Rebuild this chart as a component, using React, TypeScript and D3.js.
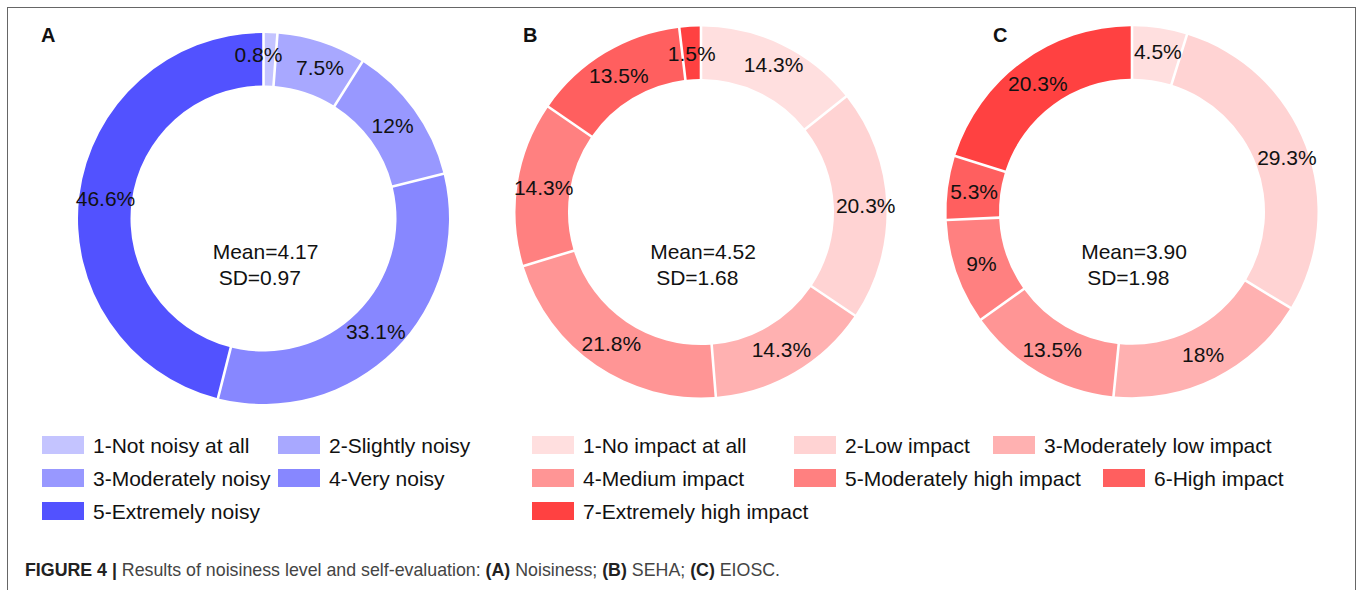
import React, { useEffect, useRef } from 'react';
import * as d3 from 'd3';

// Panel A: noisiness level
const noiseLabels = ['1-Not noisy at all', '2-Slightly noisy', '3-Moderately noisy', '4-Very noisy', '5-Extremely noisy'];
const noiseValues = [0.8, 7.5, 12, 33.1, 46.6];
const blueColors = ['#c4c4ff', '#a8a8ff', '#9898ff', '#8787ff', '#5252ff'];

// Panels B and C: impact scale
const impactLabels = [
  '1-No impact at all', '2-Low impact', '3-Moderately low impact', '4-Medium impact',
  '5-Moderately high impact', '6-High impact', '7-Extremely high impact',
];
const sehaValues = [14.3, 20.3, 14.3, 21.8, 14.3, 13.5, 1.5];
const eioscValues = [4.5, 29.3, 18, 13.5, 9, 5.3, 20.3];
const redColors = ['#ffdfdf', '#ffd3d3', '#ffb1b1', '#ff9595', '#ff8080', '#ff5f5f', '#ff4141'];

const panelNames = ['A', 'B', 'C'];
const means = ['4.17', '4.52', '3.90'];
const sds = ['0.97', '1.68', '1.98'];

const W = 1358;
const H = 590;
const FONT = '"Liberation Sans", Arial, Helvetica, sans-serif';

export default function App() {
  const svgRef = useRef<SVGSVGElement>(null);

  useEffect(() => {
    if (!svgRef.current) return;
    const svg = d3.select(svgRef.current);
    svg.selectAll('*').remove();

    svg.append('rect')
      .attr('x', 7.5).attr('y', 7.5)
      .attr('width', 1348).attr('height', 620)
      .attr('fill', 'none')
      .attr('stroke', '#666')
      .attr('stroke-width', 1);

    const panels = [
      { values: noiseValues, colors: blueColors, cx: 263.5, cy: 218.5, letterX: 41, nudge: [[-11, -4.5], [6.6, 0]] },
      { values: sehaValues, colors: redColors, cx: 701, cy: 212, letterX: 523, nudge: [[3.4, -4.5], [5.6, 0]] },
      { values: eioscValues, colors: redColors, cx: 1132, cy: 211.7, letterX: 993, nudge: [[2, -3], [6, 2]] },
    ];

    const pie = d3.pie<number>().sort(null).value(d => d).padAngle(0.026);
    const arc = d3.arc<d3.PieArcDatum<number>>()
      .innerRadius(133)
      .outerRadius(185.5)
      .padRadius(100);

    panels.forEach((p, i) => {
      const g = svg.append('g').attr('transform', `translate(${p.cx},${p.cy})`);
      const arcs = pie(p.values);

      g.selectAll('path')
        .data(arcs)
        .enter()
        .append('path')
        .attr('d', arc)
        .attr('fill', (_, j) => p.colors[j]);

      g.selectAll('text.pct')
        .data(arcs)
        .enter()
        .append('text')
        .attr('class', 'pct')
        .attr('x', (d, j) => arc.centroid(d)[0] + (p.nudge[j] ? p.nudge[j][0] : 0))
        .attr('y', (d, j) => arc.centroid(d)[1] + (p.nudge[j] ? p.nudge[j][1] : 0))
        .attr('text-anchor', 'middle')
        .attr('dominant-baseline', 'central')
        .style('font-family', FONT)
        .style('font-size', '21px')
        .style('fill', '#111')
        .text(d => `${d.data}%`);

      // centre statistics
      const meanText = svg.append('text')
        .attr('x', p.cx + 2)
        .attr('y', 259)
        .attr('text-anchor', 'middle')
        .style('font-family', FONT)
        .style('font-size', '21px')
        .style('fill', '#111')
        .text(`Mean=${means[i]}`);
      const meanLeft = p.cx + 2 - (meanText.node() as SVGTextElement).getComputedTextLength() / 2;
      svg.append('text')
        .attr('x', meanLeft + 6)
        .attr('y', 285)
        .style('font-family', FONT)
        .style('font-size', '21px')
        .style('fill', '#111')
        .text(`SD=${sds[i]}`);

      svg.append('text')
        .attr('x', p.letterX)
        .attr('y', 42)
        .style('font-family', FONT)
        .style('font-size', '20px')
        .style('font-weight', 'bold')
        .style('fill', '#111')
        .text(panelNames[i]);
    });

    // Legends
    const rowY = [436, 469, 502];
    const legendA = noiseLabels.map((label, j) => ({
      label, color: blueColors[j], x: [42, 278][j % 2], y: rowY[Math.floor(j / 2)],
    }));
    const impactX = [532, 794, 993, 532, 794, 1103, 532];
    const legendB = impactLabels.map((label, j) => ({
      label, color: redColors[j], x: impactX[j], y: rowY[Math.floor(j / 3)],
    }));

    const items = svg.selectAll('g.legend')
      .data([...legendA, ...legendB])
      .enter()
      .append('g')
      .attr('class', 'legend')
      .attr('transform', d => `translate(${d.x},${d.y})`);

    items.append('rect')
      .attr('width', 42)
      .attr('height', 18)
      .attr('fill', d => d.color);

    items.append('text')
      .attr('x', 51)
      .attr('y', 9)
      .attr('dominant-baseline', 'central')
      .style('font-family', FONT)
      .style('font-size', '21px')
      .style('fill', '#111')
      .text(d => d.label);

    // Caption
    const caption = svg.append('text')
      .attr('x', 25)
      .attr('y', 576)
      .style('font-family', FONT)
      .style('font-size', '17.8px')
      .style('fill', '#444');
    const parts: [string, boolean][] = [
      ['FIGURE 4 | ', true],
      ['Results of noisiness level and self-evaluation: ', false],
      ['(A)', true], [' Noisiness; ', false],
      ['(B)', true], [' SEHA; ', false],
      ['(C)', true], [' EIOSC.', false],
    ];
    parts.forEach(([t, bold]) => {
      caption.append('tspan')
        .style('font-weight', bold ? 'bold' : 'normal')
        .style('fill', bold ? '#222' : '#444')
        .text(t);
    });
  }, []);

  return (
    <svg
      ref={svgRef}
      width={W}
      height={H}
      style={{ position: 'absolute', left: 0, top: 0, background: '#fff' }}
    />
  );
}
